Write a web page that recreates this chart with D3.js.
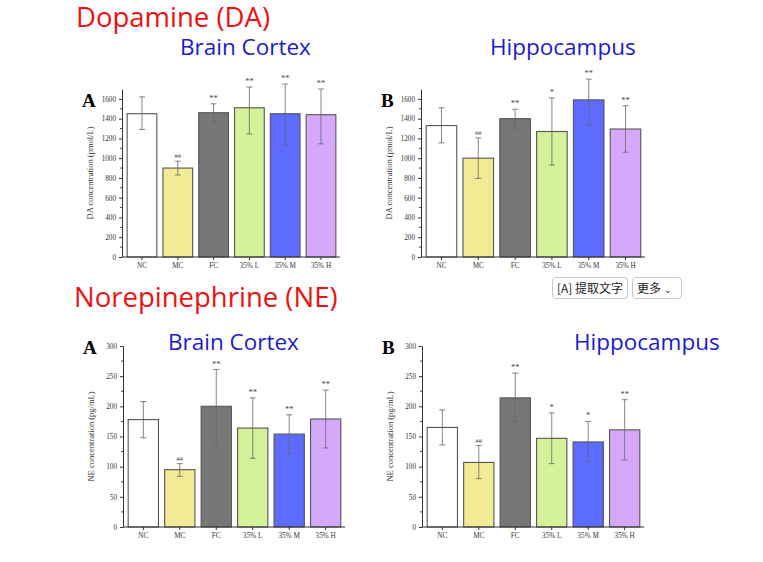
<!DOCTYPE html>
<html><head><meta charset="utf-8">
<script src="https://cdn.jsdelivr.net/npm/d3@7"></script>
<style>
body{margin:0;background:#fff;}
svg{display:block;}
.btn{position:absolute;border:1px solid #c8c8c8;border-radius:4px;background:#fff;font-family:"Noto Sans CJK SC",sans-serif;font-size:12px;color:#222;height:20px;line-height:20px;padding:0 4px;box-sizing:content-box;white-space:nowrap;}
</style></head>
<body>
<div style="position:relative;width:763px;height:562px;">
<svg id="chart" width="763" height="562"></svg>
<div class="btn" style="left:552px;top:277px;width:66px;">[A] 提取文字</div>
<div class="btn" style="left:632px;top:277px;width:40px;">更多 <span style="font-size:9px">⌄</span></div>
</div>
<script>
const groups = ['NC', 'MC', 'FC', '35% L', '35% M', '35% H'];
const colors = ['#ffffff', '#f0eb94', '#777777', '#d4f29a', '#5b6cff', '#d6a8fb'];

// mean, error low, error high, significance mark
const daCortex = [1450, 900, 1460, 1510, 1450, 1440];
const daCortexLo = [1290, 830, 1370, 1245, 1135, 1145];
const daCortexHi = [1620, 970, 1550, 1720, 1750, 1700];
const daCortexSig = ['', '##', '**', '**', '**', '**'];

const daHippo = [1330, 1000, 1400, 1270, 1590, 1295];
const daHippoLo = [1155, 795, 1305, 930, 1335, 1060];
const daHippoHi = [1510, 1205, 1495, 1610, 1800, 1530];
const daHippoSig = ['', '##', '**', '*', '**', '**'];

const neCortex = [178, 95, 200, 164, 154, 179];
const neCortexLo = [148, 84, 138, 114, 122, 131];
const neCortexHi = [208, 105, 261, 214, 186, 227];
const neCortexSig = ['', '##', '**', '**', '**', '**'];

const neHippo = [165, 107, 214, 147, 141, 161];
const neHippoLo = [136, 80, 174, 105, 108, 111];
const neHippoHi = [194, 135, 255, 189, 175, 211];
const neHippoSig = ['', '##', '**', '*', '*', '**'];

const daTicks = [0, 200, 400, 600, 800, 1000, 1200, 1400, 1600];
const neTicks = [0, 50, 100, 150, 200, 250, 300];

const svg = d3.select('#chart');
const serif = '"Liberation Serif", "DejaVu Serif", serif';

function panel(o) {
  const g = svg.append('g');
  const x = d3.scaleBand().domain(groups).range([o.x0 + 3, o.x1 - 2]).paddingInner(0.17).paddingOuter(0.06);
  const y = d3.scaleLinear().domain([0, o.max]).range([o.y0, o.y1]);

  g.selectAll('rect').data(o.vals).join('rect')
    .attr('x', (d, i) => x(groups[i])).attr('width', x.bandwidth())
    .attr('y', d => y(d)).attr('height', d => o.y0 - y(d))
    .attr('fill', (d, i) => colors[i]).attr('stroke', '#555').attr('stroke-width', 1.1);

  const cx = i => x(groups[i]) + x.bandwidth() / 2;
  o.vals.forEach((v, i) => {
    const lo = y(o.lo[i]), hi = y(o.hi[i]);
    g.append('line').attr('x1', cx(i)).attr('x2', cx(i)).attr('y1', lo).attr('y2', hi).attr('stroke', '#666').attr('stroke-width', 0.8);
    [lo, hi].forEach(yy => g.append('line').attr('x1', cx(i) - 3).attr('x2', cx(i) + 3).attr('y1', yy).attr('y2', yy).attr('stroke', '#666').attr('stroke-width', 0.8));
    if (o.sig[i]) g.append('text').attr('x', cx(i)).attr('y', hi - 3).attr('text-anchor', 'middle')
      .attr('font-family', serif).attr('font-size', o.sig[i] === '##' ? 6.5 : 8.5).attr('fill', '#444').text(o.sig[i]);
  });

  const ya = g.append('g').attr('transform', `translate(${o.x0},0)`)
    .call(d3.axisLeft(y).tickValues(o.ticks).tickFormat(d3.format('d')).tickSize(3).tickSizeOuter(0));
  const minor = d3.range(o.ticks[1] / 2, o.max, o.ticks[1]);
  ya.selectAll('.minor').data(minor).join('line').attr('class', 'minor')
    .attr('x1', 0).attr('x2', -1.8).attr('y1', d => y(d)).attr('y2', d => y(d)).attr('stroke', '#333');
  const xa = g.append('g').attr('transform', `translate(0,${o.y0})`)
    .call(d3.axisBottom(x).tickSize(3).tickSizeOuter(0));
  xa.select('.domain').attr('d', `M${o.x0},0H${o.x1}`);
  [ya, xa].forEach(a => {
    a.selectAll('text').attr('font-family', serif).attr('font-size', 7.2).attr('fill', '#333');
    a.selectAll('line,path').attr('stroke', '#333');
  });

  g.append('text').attr('transform', `translate(${o.x0 - 29},${(o.y0 + o.y1) / 2}) rotate(-90)`)
    .attr('text-anchor', 'middle').attr('font-family', serif).attr('font-size', 8.5).attr('fill', '#333').text(o.ylab);
  g.append('text').attr('x', o.x0 - 40).attr('y', y(o.ticks[o.ticks.length - 1]) + 8)
    .attr('font-family', serif).attr('font-weight', 'bold').attr('font-size', 19).text(o.letter);
}

panel({x0: 122, x1: 340, y0: 257, y1: 89, max: 1700, ticks: daTicks, vals: daCortex, lo: daCortexLo, hi: daCortexHi, sig: daCortexSig, ylab: 'DA concentration (pmol/L)', letter: 'A'});
panel({x0: 421, x1: 645, y0: 257, y1: 89, max: 1700, ticks: daTicks, vals: daHippo, lo: daHippoLo, hi: daHippoHi, sig: daHippoSig, ylab: 'DA concentration (pmol/L)', letter: 'B'});
panel({x0: 123, x1: 345, y0: 527, y1: 346, max: 300, ticks: neTicks, vals: neCortex, lo: neCortexLo, hi: neCortexHi, sig: neCortexSig, ylab: 'NE concentration (pg/mL)', letter: 'A'});
panel({x0: 422, x1: 644, y0: 527, y1: 346, max: 300, ticks: neTicks, vals: neHippo, lo: neHippoLo, hi: neHippoHi, sig: neHippoSig, ylab: 'NE concentration (pg/mL)', letter: 'B'});

const titles = [
  ['Dopamine (DA)', 76, 27, '#ee1111', 27.5],
  ['Brain Cortex', 180, 55, '#1a1ad0', 22.5],
  ['Hippocampus', 490, 55, '#1a1ad0', 22.5],
  ['Norepinephrine (NE)', 74, 307, '#ee1111', 27.5],
  ['Brain Cortex', 168, 350, '#1a1ad0', 22.5],
  ['Hippocampus', 574, 350, '#1a1ad0', 22.5]
];
svg.selectAll('.title').data(titles).join('text').attr('class', 'title')
  .attr('x', d => d[1]).attr('y', d => d[2]).attr('fill', d => d[3]).attr('font-size', d => d[4])
  .attr('font-family', '"Open Sans", "Noto Sans", sans-serif').text(d => d[0]);
</script>
</body></html>
